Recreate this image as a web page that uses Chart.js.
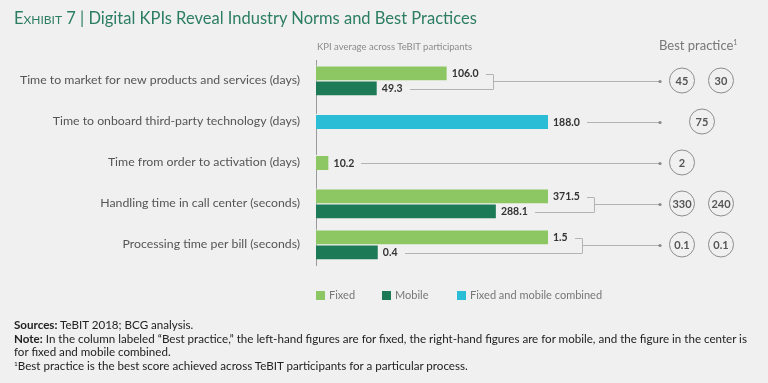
<!DOCTYPE html>
<html>
<head>
<meta charset="utf-8">
<script src="https://cdn.jsdelivr.net/npm/chart.js@4.4.1/dist/chart.umd.min.js"></script>
<style>
  html, body { margin: 0; padding: 0; background: #f0f0f0; }
  #wrap { position: relative; width: 768px; height: 383px; overflow: hidden; font-family: Lato, "Open Sans", sans-serif; }
  #c { position: absolute; left: 0; top: 0; }
  .title { position: absolute; left: 14px; top: 8px; font-size: 16.5px; color: #2b7d63; white-space: nowrap; }
  .title .sc { font-variant: small-caps; }
  .sub { position: absolute; left: 317px; top: 41px; font-size: 9.5px; color: #8c8c8c; white-space: nowrap; }
  .bp { position: absolute; left: 659px; top: 37px; font-size: 13px; color: #777; white-space: nowrap; }
  .bp sup { font-size: 7px; vertical-align: 5px; line-height: 0; }
  .lg { position: absolute; top: 288px; font-size: 11px; color: #777; white-space: nowrap; line-height: 14px; }
  .lg i { display: inline-block; width: 9px; height: 9px; margin-right: 4px; vertical-align: -1px; }
  .notes { position: absolute; left: 14px; top: 318px; font-size: 11.6px; line-height: 13.7px; color: #222; white-space: nowrap; }
  .notes sup { font-size: 6.5px; vertical-align: 4px; line-height: 0; }
</style>
</head>
<body>
<div id="wrap">
  <canvas id="c" width="768" height="383"></canvas>
  <div class="title"><span class="sc">Exhibit 7</span> | Digital KPIs Reveal Industry Norms and Best Practices</div>
  <div class="sub">KPI average across TeBIT participants</div>
  <div class="bp">Best practice<sup>1</sup></div>
  <div id="legend"></div>
  <div class="notes"><b>Sources:</b> TeBIT 2018; BCG analysis.<br><b>Note:</b> In the column labeled “Best practice,” the left-hand figures are for fixed, the right-hand figures are for mobile, and the figure in the center is<br>for fixed and mobile combined.<br><sup>1</sup>Best practice is the best score achieved across TeBIT participants for a particular process.</div>
</div>
<script>
// ---- Data ----
const categories = [
  'Time to market for new products and services (days)',
  'Time to onboard third-party technology (days)',
  'Time from order to activation (days)',
  'Handling time in call center (seconds)',
  'Processing time per bill (seconds)'
];
const seriesNames = ['Fixed', 'Mobile', 'Fixed and mobile combined'];
const fixedValues    = [106.0, null, 10.2, 371.5, 1.5];
const mobileValues   = [49.3, null, null, 288.1, 0.4];
const combinedValues = [null, 188.0, null, null, null];
// KPIs sharing the same unit scale are drawn on the same value axis
const scaleGroups = ['days', 'days', 'days', 'call', 'bill'];
const bestFixed    = ['45', null, '2', '330', '0.1'];
const bestMobile   = ['30', null, null, '240', '0.1'];
const bestCombined = [null, '75', null, null, null];

// ---- Styles ----
const colors = ['#8cc764', '#1c7a56', '#2bbcd6'];
const BG = '#f0f0f0';
const FONT = 'Lato, "Open Sans", sans-serif';

const seriesValues = [fixedValues, mobileValues, combinedValues];
const groupIds = [...new Set(scaleGroups)];

const datasets = [];
groupIds.forEach(g => {
  seriesValues.forEach((vals, s) => {
    const data = vals.map((v, i) => scaleGroups[i] === g ? v : null);
    if (data.every(v => v === null)) return;
    datasets.push({
      label: seriesNames[s],
      data,
      xAxisID: 'x_' + g,
      backgroundColor: colors[s],
      borderColor: BG,
      borderWidth: { top: 1, right: 0, bottom: 0, left: 0 },
      borderSkipped: false,
      barThickness: 15,
      skipNull: true,
      inflateAmount: 0
    });
  });
});

const scales = {
  y: {
    type: 'category',
    offset: true,
    grid: { display: false },
    border: { display: true, color: '#9a9a9a', width: 1 },
    ticks: { color: '#555', font: { family: FONT, size: 12.3 }, padding: 8 },
    afterFit(scale) { scale.width = 316; }
  }
};
groupIds.forEach(g => {
  const vals = [];
  seriesValues.forEach(arr => arr.forEach((v, i) => { if (scaleGroups[i] === g && v !== null) vals.push(v); }));
  scales['x_' + g] = { type: 'linear', axis: 'x', display: false, min: 0, max: Math.max(...vals) };
});

function hline(ctx, x1, x2, y) {
  const yy = Math.round(y) + 0.5;
  ctx.beginPath(); ctx.moveTo(Math.round(x1), yy); ctx.lineTo(Math.round(x2), yy); ctx.stroke();
}
function vline(ctx, x, y1, y2) {
  const xx = Math.round(x) + 0.5;
  ctx.beginPath(); ctx.moveTo(xx, Math.round(y1) + 0.5); ctx.lineTo(xx, Math.round(y2) + 0.5); ctx.stroke();
}

const overlay = {
  id: 'overlay',
  afterDatasetsDraw(chart) {
    const ctx = chart.ctx;
    const yScale = chart.scales.y;
    ctx.save();
    ctx.font = 'bold 10.5px ' + FONT;
    ctx.textBaseline = 'middle';
    ctx.textAlign = 'left';
    const rows = categories.map(() => []);
    chart.data.datasets.forEach((ds, di) => {
      const meta = chart.getDatasetMeta(di);
      ds.data.forEach((v, i) => {
        if (v === null) return;
        const bar = meta.data[i];
        const text = v.toFixed(1);
        const x0 = bar.x + 5;
        const y = bar.y + 0.5;
        ctx.fillStyle = '#333';
        ctx.fillText(text, x0, y + 0.5);
        rows[i].push({ y, end: x0 + ctx.measureText(text).width });
      });
    });
    const dotX = 660;
    const cols = [682, 702, 721];
    ctx.strokeStyle = '#b3b3b3';
    ctx.lineWidth = 1;
    rows.forEach((items, i) => {
      const cy = yScale.getPixelForValue(i);
      items.sort((a, b) => a.y - b.y);
      let startX;
      if (items.length > 1) {
        const bx = Math.max(...items.map(t => t.end)) + 14;
        items.forEach(t => hline(ctx, t.end + 7, bx, t.y));
        vline(ctx, bx, items[0].y, items[items.length - 1].y);
        startX = bx;
      } else {
        startX = items[0].end + 7;
      }
      hline(ctx, startX, dotX, cy);
      ctx.fillStyle = '#888';
      ctx.beginPath(); ctx.arc(dotX, Math.round(cy) + 0.5, 1.6, 0, Math.PI * 2); ctx.fill();
      const vals = [bestFixed[i], bestCombined[i], bestMobile[i]];
      vals.forEach((t, k) => {
        if (t === null) return;
        ctx.strokeStyle = '#8c8c8c';
        ctx.beginPath(); ctx.arc(cols[k], cy, 12.5, 0, Math.PI * 2); ctx.stroke();
        ctx.fillStyle = '#555';
        ctx.font = 'bold 11px ' + FONT;
        ctx.textAlign = 'center';
        ctx.fillText(t, cols[k], cy + 0.5);
      });
      ctx.strokeStyle = '#b3b3b3';
      ctx.textAlign = 'left';
      ctx.font = 'bold 10.5px ' + FONT;
    });
    ctx.restore();
  }
};

new Chart(document.getElementById('c'), {
  type: 'bar',
  data: { labels: categories, datasets },
  options: {
    indexAxis: 'y',
    responsive: false,
    animation: false,
    devicePixelRatio: 1,
    layout: { padding: { top: 60, bottom: 118, left: 0, right: 220 } },
    plugins: { legend: { display: false }, tooltip: { enabled: false } },
    scales
  },
  plugins: [overlay]
});

// HTML legend built from series names/colors
const legendPos = [316, 382, 457];
const lg = document.getElementById('legend');
seriesNames.forEach((n, s) => {
  const d = document.createElement('div');
  d.className = 'lg';
  d.style.left = legendPos[s] + 'px';
  d.innerHTML = '<i style="background:' + colors[s] + '"></i>' + n;
  lg.appendChild(d);
});
</script>
</body>
</html>
